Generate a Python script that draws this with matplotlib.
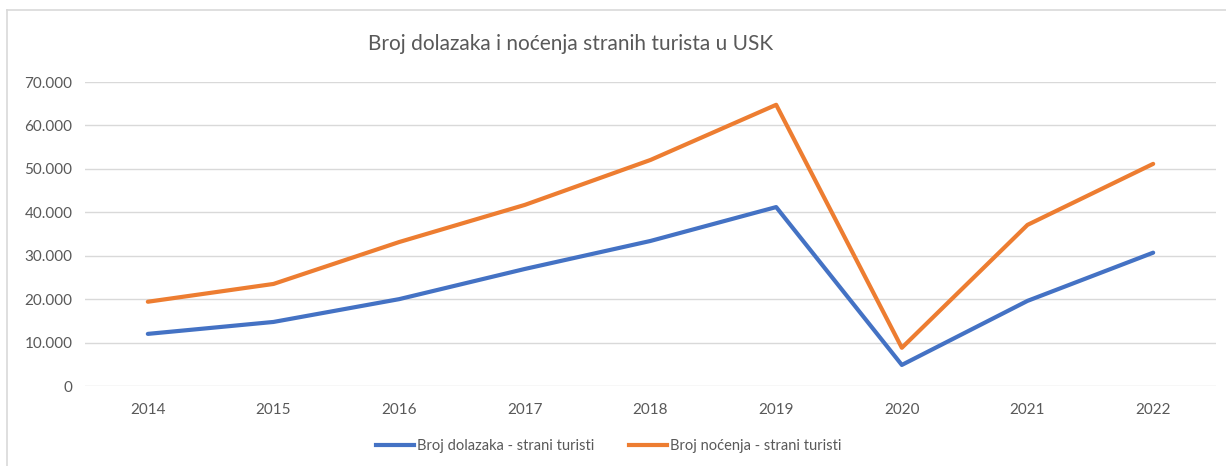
import matplotlib.pyplot as plt
from matplotlib.lines import Line2D
from matplotlib.ticker import FuncFormatter

plt.rcParams['font.family'] = ['Lato', 'DejaVu Sans']

years = ['2014', '2015', '2016', '2017', '2018', '2019', '2020', '2021', '2022']
dolasci = [12000, 14750, 20000, 26950, 33400, 41200, 4850, 19600, 30700]
nocenja = [19400, 23500, 33150, 41700, 52050, 64750, 8800, 37100, 51150]

blue = '#4472C4'
orange = '#ED7D31'
grey = '#595959'

fig = plt.figure(figsize=(12.26, 4.66), dpi=100)
ax = fig.add_axes([85 / 1226, 80 / 466, 1131 / 1226, 304 / 466])

x = list(range(len(years)))
ax.plot(x, dolasci, color=blue, lw=3, solid_capstyle='round', solid_joinstyle='round')
ax.plot(x, nocenja, color=orange, lw=3, solid_capstyle='round', solid_joinstyle='round')

ax.set_xlim(-0.5, len(years) - 0.5)
ax.set_ylim(0, 70000)
ax.set_yticks(range(0, 70001, 10000))
ax.yaxis.set_major_formatter(FuncFormatter(lambda v, p: f'{int(v):,}'.replace(',', '.')))
ax.set_xticks(x)
ax.set_xticklabels(years)
ax.grid(axis='y', color='#D9D9D9', lw=1)
ax.set_axisbelow(True)
for s in ax.spines.values():
    s.set_visible(False)
ax.tick_params(length=0, colors=grey, labelsize=11)
ax.tick_params(axis='x', pad=12)
ax.tick_params(axis='y', pad=9)

fig.text(571 / 1226, 1 - 44 / 466, 'Broj dolazaka i noćenja stranih turista u USK',
         ha='center', va='center', fontsize=15, color=grey)

handles = [Line2D([], [], color=blue, lw=3), Line2D([], [], color=orange, lw=3)]
fig.legend(handles, ['Broj dolazaka - strani turisti', 'Broj noćenja - strani turisti'],
           loc='center', bbox_to_anchor=(609 / 1226, 1 - 446 / 466), ncol=2, frameon=False,
           fontsize=10.5, labelcolor=grey, handlelength=2.6, handletextpad=0.2, columnspacing=2.4)

# chart border (left and top visible)
fig.add_artist(Line2D([7 / 1226, 7 / 1226], [0, 1 - 10 / 466], transform=fig.transFigure,
                      color='#D9D9D9', lw=1.2))
fig.add_artist(Line2D([7 / 1226, 1], [1 - 10 / 466, 1 - 10 / 466], transform=fig.transFigure,
                      color='#D9D9D9', lw=1.2))

fig.savefig('out.png', dpi=100)
